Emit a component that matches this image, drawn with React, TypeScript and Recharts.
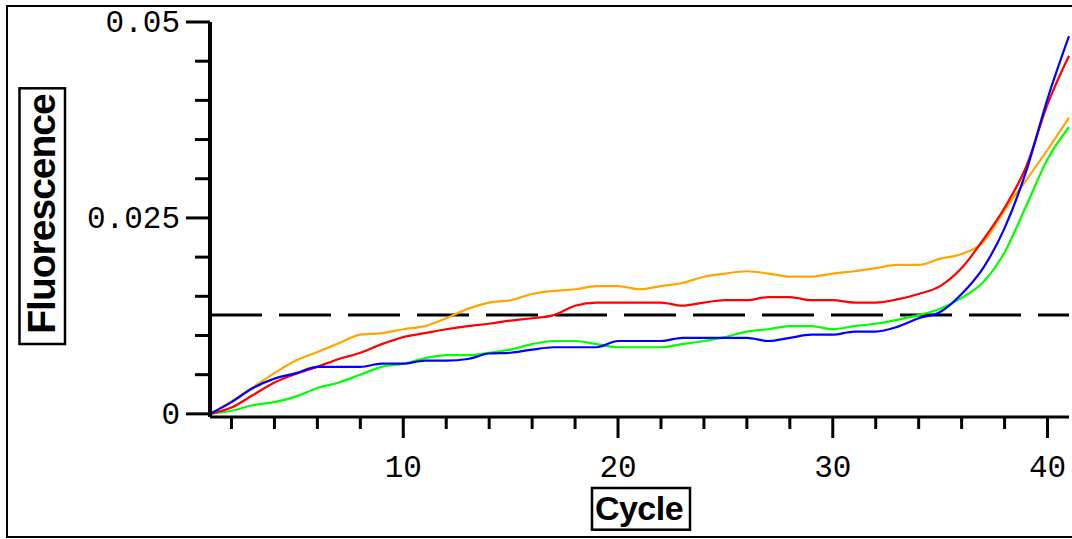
import { LineChart, Line, XAxis, YAxis, ReferenceLine } from 'recharts';

const cycles = [
  1, 2, 3, 4, 5, 6, 7, 8, 9, 10, 11, 12, 13, 14, 15, 16, 17, 18, 19, 20, 21,
  22, 23, 24, 25, 26, 27, 28, 29, 30, 31, 32, 33, 34, 35, 36, 37, 38, 39, 40, 41,
];

const orangeSeries = [
  0, 0.0016, 0.0034, 0.0052, 0.0068, 0.0079, 0.009, 0.0101, 0.0103, 0.0108, 0.0112,
  0.0122, 0.0134, 0.0142, 0.0145, 0.0153, 0.0157, 0.0159, 0.0163, 0.0163, 0.0159,
  0.0163, 0.0167, 0.0175, 0.0179, 0.0182, 0.0179, 0.0175, 0.0175, 0.0179, 0.0182,
  0.0186, 0.019, 0.019, 0.0198, 0.0204, 0.0219, 0.026, 0.0298, 0.0337, 0.0378,
];

const redSeries = [
  0, 0.0008, 0.0024, 0.004, 0.0051, 0.006, 0.007, 0.0078, 0.0089, 0.0098, 0.0103,
  0.0108, 0.0112, 0.0115, 0.0119, 0.0122, 0.0126, 0.0138, 0.0142, 0.0142, 0.0142,
  0.0142, 0.0138, 0.0142, 0.0145, 0.0145, 0.0149, 0.0149, 0.0145, 0.0145, 0.0142,
  0.0142, 0.0146, 0.0153, 0.0163, 0.0186, 0.0222, 0.0263, 0.0315, 0.0395, 0.0457,
];

const blueSeries = [
  0, 0.0015, 0.0033, 0.0045, 0.0052, 0.006, 0.006, 0.006, 0.0064, 0.0064, 0.0068,
  0.0068, 0.007, 0.0077, 0.0078, 0.0082, 0.0085, 0.0085, 0.0085, 0.0093, 0.0093,
  0.0093, 0.0097, 0.0097, 0.0097, 0.0097, 0.0093, 0.0097, 0.0101, 0.0101, 0.0105,
  0.0105, 0.0111, 0.0122, 0.013, 0.0153, 0.0186, 0.0237, 0.0309, 0.0402, 0.0482,
];

const greenSeries = [
  0, 0.0004, 0.0011, 0.0015, 0.0022, 0.0033, 0.004, 0.005, 0.006, 0.0064, 0.0071,
  0.0075, 0.0075, 0.0078, 0.0082, 0.0089, 0.0093, 0.0093, 0.0089, 0.0085, 0.0085,
  0.0085, 0.0089, 0.0093, 0.0098, 0.0105, 0.0108, 0.0112, 0.0112, 0.0108, 0.0112,
  0.0115, 0.012, 0.0126, 0.0134, 0.0148, 0.0168, 0.0206, 0.0265, 0.0325, 0.0366,
];

const yTicks = [0, 0.005, 0.01, 0.015, 0.02, 0.025, 0.03, 0.035, 0.04, 0.045, 0.05];
const yMajorTicks = [0, 0.025, 0.05];
const yMajorLabels = ['0', '0.025', '0.05'];

const xTicks = [2, 4, 6, 8, 10, 12, 14, 16, 18, 20, 22, 24, 26, 28, 30, 32, 34, 36, 38, 40];
const xMajorTicks = [10, 20, 30, 40];
const xMajorLabels = ['10', '20', '30', '40'];

const threshold = 0.0126;
const yTitle = 'Fluorescence';
const xTitle = 'Cycle';

const data = cycles.map((cycle, i) => ({
  cycle,
  orange: orangeSeries[i],
  red: redSeries[i],
  blue: blueSeries[i],
  green: greenSeries[i],
}));

const monoFont = '"Liberation Mono", "DejaVu Sans Mono", monospace';
const boldFont = '"Liberation Sans", Arial, sans-serif';

function YTick({ x, y, payload }: any) {
  const idx = yMajorTicks.indexOf(payload.value);
  const major = idx >= 0;
  return (
    <g>
      <line x1={x - (major ? 24 : 15)} x2={x} y1={y} y2={y} stroke="#000" strokeWidth={3} />
      {major && (
        <text x={x - 30} y={y + 10} textAnchor="end" fontFamily={monoFont} fontSize={31} fill="#000">
          {yMajorLabels[idx]}
        </text>
      )}
    </g>
  );
}

function XTick({ x, y, payload }: any) {
  const idx = xMajorTicks.indexOf(payload.value);
  const major = idx >= 0;
  return (
    <g>
      <line x1={x} x2={x} y1={y} y2={y + (major ? 21 : 12)} stroke="#000" strokeWidth={3} />
      {major && (
        <text x={x} y={y + 60} textAnchor="middle" fontFamily={monoFont} fontSize={31} fill="#000">
          {xMajorLabels[idx]}
        </text>
      )}
    </g>
  );
}

function YTitle() {
  return (
    <g>
      <rect x={19.5} y={88.3} width={45.5} height={255.7} fill="#fff" stroke="#000" strokeWidth={2.5} />
      <text
        transform="translate(55,214) rotate(-90)"
        textAnchor="middle"
        fontFamily={boldFont}
        fontWeight="bold"
        fontSize={39}
        letterSpacing={-1}
        fill="#000"
      >
        {yTitle}
      </text>
    </g>
  );
}

function XTitle() {
  return (
    <g>
      <rect x={592} y={488} width={98} height={41.7} fill="#fff" stroke="#000" strokeWidth={2.5} />
      <text x={639} y={520} textAnchor="middle" fontFamily={boldFont} fontWeight="bold" fontSize={34} letterSpacing={-0.5} fill="#000">
        {xTitle}
      </text>
    </g>
  );
}

export default function App() {
  return (
    <div style={{ position: 'absolute', left: 0, top: 0, width: 1072, height: 539, overflow: 'hidden', background: '#fff' }}>
      <LineChart width={1075} height={539} data={data} margin={{ top: 22, right: 6, left: 0, bottom: 0 }}>
        <XAxis
          dataKey="cycle"
          type="number"
          domain={[1, 41]}
          ticks={xTicks}
          height={122}
          tickSize={0}
          tickMargin={0}
          tickLine={false}
          tick={<XTick />}
          axisLine={{ stroke: '#000', strokeWidth: 3 }}
          label={<XTitle />}
        />
        <YAxis
          type="number"
          domain={[-0.0004, 0.05]}
          allowDataOverflow
          ticks={yTicks}
          width={210}
          tickSize={0}
          tickMargin={0}
          tickLine={false}
          tick={<YTick />}
          axisLine={{ stroke: '#000', strokeWidth: 4 }}
          label={<YTitle />}
        />
        <ReferenceLine y={threshold} stroke="#000" strokeWidth={3} strokeDasharray="52 17" />
        <Line type="monotone" dataKey="orange" stroke="#ffa500" strokeWidth={2.2} dot={false} isAnimationActive={false} />
        <Line type="monotone" dataKey="green" stroke="#00ff00" strokeWidth={2.2} dot={false} isAnimationActive={false} />
        <Line type="monotone" dataKey="red" stroke="#ff0000" strokeWidth={2.2} dot={false} isAnimationActive={false} />
        <Line type="monotone" dataKey="blue" stroke="#0000ff" strokeWidth={2.2} dot={false} isAnimationActive={false} />
      </LineChart>
      <div
        style={{
          position: 'absolute',
          left: 6,
          top: 5,
          width: 1100,
          height: 533,
          boxSizing: 'border-box',
          border: '2px solid #000',
          pointerEvents: 'none',
        }}
      />
    </div>
  );
}
